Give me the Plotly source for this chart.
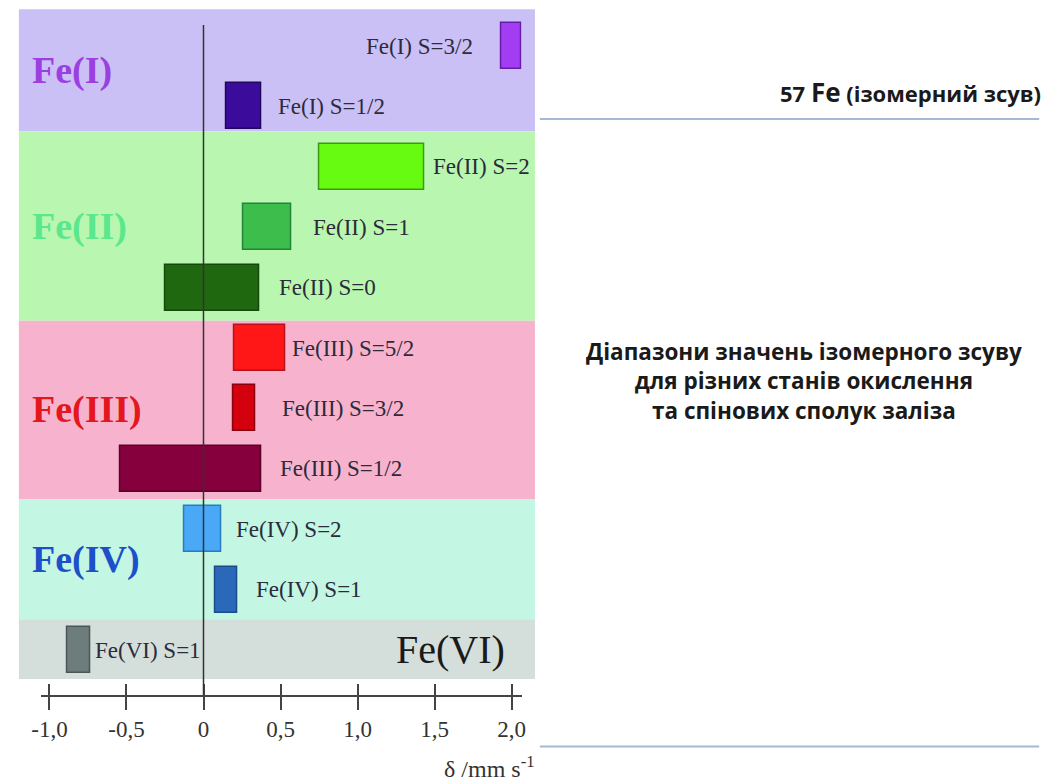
import plotly.graph_objects as go

# ---------------- data ----------------
states = ["Fe(I) S=3/2", "Fe(I) S=1/2",
          "Fe(II) S=2", "Fe(II) S=1", "Fe(II) S=0",
          "Fe(III) S=5/2", "Fe(III) S=3/2", "Fe(III) S=1/2",
          "Fe(IV) S=2", "Fe(IV) S=1",
          "Fe(VI) S=1"]
delta_min = [1.93, 0.145, 0.75, 0.26, -0.25, 0.20, 0.19, -0.54, -0.125, 0.075, -0.885]
delta_max = [2.06, 0.375, 1.43, 0.57, 0.365, 0.53, 0.335, 0.375, 0.115, 0.22, -0.735]

groups = ["Fe(I)", "Fe(II)", "Fe(III)", "Fe(IV)", "Fe(VI)"]
tick_vals = [-1.0, -0.5, 0.0, 0.5, 1.0, 1.5, 2.0]
tick_text = ["-1,0", "-0,5", "0", "0,5", "1,0", "1,5", "2,0"]

title_top = "57 <span style='font-size:26px'>Fe</span> (ізомерний зсув)"
title_mid = "Діапазони значень ізомерного зсуву<br>для різних станів окислення<br>та спінових сполук заліза"
x_title = "δ /mm s<sup>-1</sup>"

# ---------------- style / layout ----------------
W, H = 1058, 783


def px_x(p):
    return p / W


def px_y(p):
    return 1 - p / H


bar_colors = ["#a23df2", "#3b0c9c", "#66fb10", "#3dbd4c", "#1f680f",
              "#ff1616", "#d5000e", "#86003e", "#4aa9f6", "#2a69ba", "#6d7d7c"]
bar_edges = ["#6a1aa8", "#22065e", "#3c9a10", "#23853a", "#144a0a",
             "#b80f1a", "#8c0010", "#5a0028", "#2a7ac0", "#1a4a8a", "#4a5656"]
label_shift = [-26, 15, 7, 20, 17, 5, 25, 17, 13, 17, 3]   # px gap between bar end and its label

band_edges = [-0.61, 1.41, 4.55, 7.5, 9.49, 10.48]          # in row units
band_colors = ["#cbc0f5", "#b9f7b1", "#f7b3cd", "#c3f7e3", "#d4dedb"]
group_colors = ["#9b3fe0", "#5be78b", "#e3171d", "#1c4fc8", "#1a1a1a"]

serif = "Liberation Serif"
sans = "Open Sans"
label_col = "#2b2b3b"
axis_col = "#444444"

x_range = [-1.053, 2.065]
y_range = [10.745, -0.613]
plot_px = dict(left=31.7, right=518.5, top=9, bottom=695)
band_px = dict(left=9, right=532)

fig = go.Figure()

fig.add_trace(go.Bar(
    y=states, base=delta_min,
    x=[hi - lo for lo, hi in zip(delta_min, delta_max)],
    orientation="h", width=0.76,
    marker=dict(color=bar_colors, line=dict(color=bar_edges, width=1.5)),
    hoverinfo="skip", showlegend=False,
))
# invisible trace carrying the upper half of the tick marks
fig.add_trace(go.Scatter(x=[None], y=[None], xaxis="x2", yaxis="y",
                         showlegend=False, hoverinfo="skip"))

shapes = []
for i, g in enumerate(groups):
    shapes.append(dict(type="rect", layer="below", xref="paper", yref="y",
                       x0=px_x(band_px["left"]), x1=px_x(band_px["right"]),
                       y0=band_edges[i], y1=band_edges[i + 1],
                       fillcolor=band_colors[i], line=dict(width=0)))
# vertical line at delta = 0
shapes.append(dict(type="line", layer="above", xref="x", yref="y",
                   x0=0, x1=0, y0=-0.35, y1=y_range[0],
                   line=dict(color="#333333", width=1.5)))
# separator lines on the right
for ypx in (119, 746.5):
    shapes.append(dict(type="line", xref="paper", yref="paper",
                       x0=px_x(537), x1=px_x(1043), y0=px_y(ypx), y1=px_y(ypx),
                       line=dict(color="#a3bad2", width=2)))

annotations = []
for i, s in enumerate(states):
    left = label_shift[i] < 0
    annotations.append(dict(
        x=delta_min[i] if left else delta_max[i], y=s, xref="x", yref="y",
        text=s, showarrow=False, xanchor="right" if left else "left",
        yanchor="middle", xshift=label_shift[i],
        font=dict(family=serif, size=23, color=label_col)))

for i, g in enumerate(groups):
    yc = (band_edges[i] + band_edges[i + 1]) / 2
    if g == "Fe(VI)":
        annotations.append(dict(x=px_x(504), xref="paper", y=yc, yref="y", text=g,
                                showarrow=False, xanchor="right", yanchor="middle",
                                font=dict(family=serif, size=40, color=group_colors[i])))
    else:
        annotations.append(dict(x=px_x(20), xref="paper", y=yc, yref="y",
                                text="<b>" + g + "</b>",
                                showarrow=False, xanchor="left", yanchor="middle",
                                font=dict(family=serif, size=38, color=group_colors[i])))

annotations.append(dict(x=px_x(534), y=px_y(767), xref="paper", yref="paper",
                        text=x_title, showarrow=False, xanchor="right", yanchor="middle",
                        font=dict(family=serif, size=24, color="#333333")))
annotations.append(dict(x=px_x(1047), y=px_y(92), xref="paper", yref="paper",
                        text="<b>" + title_top + "</b>", showarrow=False,
                        xanchor="right", yanchor="middle",
                        font=dict(family=sans, size=22, color="#1a1a1a")))
annotations.append(dict(x=px_x(805), y=px_y(381), xref="paper", yref="paper",
                        text="<b>" + title_mid + "</b>", showarrow=False,
                        xanchor="center", yanchor="middle", align="center",
                        font=dict(family=sans, size=22.5, color="#1a1a1a")))

fig.update_layout(
    width=W, height=H, autosize=False,
    margin=dict(l=0, r=0, t=0, b=0, pad=0),
    paper_bgcolor="white", plot_bgcolor="rgba(0,0,0,0)",
    shapes=shapes, annotations=annotations, bargap=0,
    xaxis=dict(domain=[px_x(plot_px["left"]), px_x(plot_px["right"])],
               range=x_range, tickvals=tick_vals, ticktext=tick_text,
               ticks="outside", ticklen=13, tickwidth=1.5, tickcolor=axis_col,
               showline=True, linecolor=axis_col, linewidth=1.5,
               showgrid=False, zeroline=False, ticklabelstandoff=0,
               tickfont=dict(family=serif, size=23, color="#333333")),
    xaxis2=dict(overlaying="x", anchor="y", side="bottom", range=x_range,
                tickvals=tick_vals, ticks="inside", ticklen=11, tickwidth=1.5,
                tickcolor=axis_col, showticklabels=False, showline=False,
                showgrid=False, zeroline=False),
    yaxis=dict(domain=[px_y(plot_px["bottom"]), px_y(plot_px["top"])],
               type="category", categoryorder="array", categoryarray=states,
               range=y_range, visible=False, showgrid=False, zeroline=False),
)

fig.write_html("out.html",
               config={"displayModeBar": False},
               post_script="document.body.style.margin='0';"
                           "document.documentElement.style.overflow='hidden';")
